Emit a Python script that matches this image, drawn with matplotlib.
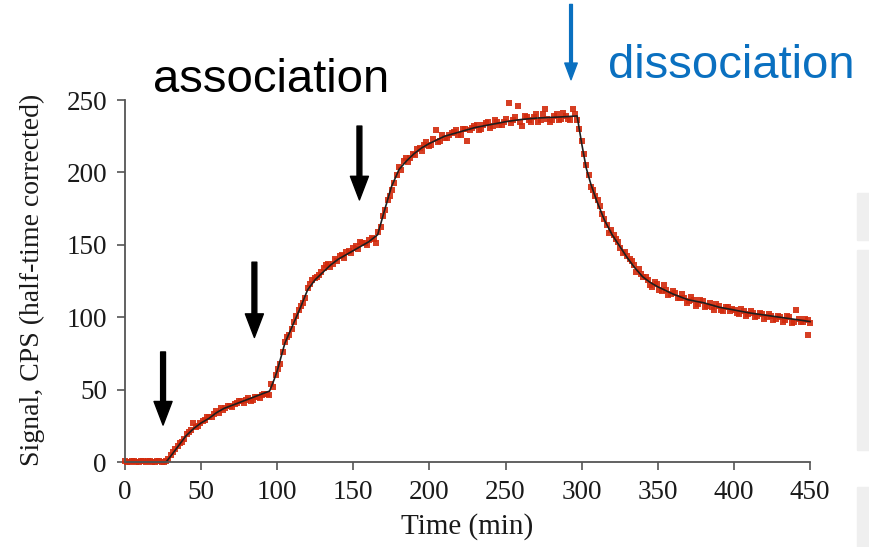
import matplotlib.pyplot as plt
from matplotlib.patches import Rectangle

# measured points (time in min, signal in CPS)
t_obs = [0, 3, 6, 9, 12, 15, 18, 21, 24, 27,
         30, 33, 36, 39, 42, 45, 48, 51, 54, 57,
         60, 63, 66, 69, 72, 75, 78, 81, 84, 87,
         90, 93, 96, 99, 102, 105, 108, 111, 114, 117,
         120, 123, 126, 129, 132, 135, 138, 141, 144, 147,
         150, 153, 156, 159, 162, 165, 168, 171, 174, 177,
         180, 183, 186, 189, 192, 195, 198, 201, 204, 207,
         210, 213, 216, 219, 222, 225, 228, 231, 234, 237,
         240, 243, 246, 249, 252, 255, 258, 261, 264, 267,
         270, 273, 276, 279, 282, 285, 288, 291, 294, 297,
         300, 303, 306, 309, 312, 315, 318, 321, 324, 327,
         330, 333, 336, 339, 342, 345, 348, 351, 354, 357,
         360, 363, 366, 369, 372, 375, 378, 381, 384, 387,
         390, 393, 396, 399, 402, 405, 408, 411, 414, 417,
         420, 423, 426, 429, 432, 435, 438, 441, 444, 447,
         450, 449]
s_obs = [0.5, 0, 1, 0, 0.5, 1, 0, 0.5, 0, 0.5,
         5, 9, 13, 16, 21, 27, 25, 28, 31, 31,
         35, 37, 37, 39, 40, 42, 41, 44, 43, 45,
         46, 47, 54, 60, 68, 83, 88, 97, 105, 110,
         120, 126, 128, 131, 136, 135, 140, 142, 141, 146,
         148, 147, 151, 150, 155, 151, 162, 174, 184, 193,
         204, 208, 207, 213, 216, 215, 221, 219, 229, 222,
         224, 226, 228, 226, 230, 222, 231, 233, 230, 234,
         231, 236, 233, 235, 248, 236, 246, 232, 238, 235,
         240, 236, 244, 235, 239, 236, 241, 237, 244, 236,
         222, 205, 190, 184, 177, 168, 158, 157, 152, 144,
         142, 139, 131, 130, 128, 122, 124, 119, 122, 115,
         118, 113, 116, 110, 114, 108, 112, 107, 110, 105,
         108, 104, 107, 106, 103, 106, 101, 104, 100, 103,
         99, 102, 98, 101, 97, 101, 96, 105, 97, 99,
         96, 88]

# second read-out, half a cycle later
t_obs2 = [1.5, 4.5, 7.5, 10.5, 13.5, 16.5, 19.5, 22.5, 25.5,
          28.5, 31.5, 34.5, 37.5, 40.5, 43.5, 46.5, 49.5, 52.5, 55.5,
          58.5, 61.5, 64.5, 67.5, 70.5, 73.5, 76.5, 79.5, 82.5, 85.5,
          88.5, 91.5, 94.5, 97.5, 100.5, 103.5, 106.5, 109.5, 112.5, 115.5,
          118.5, 121.5, 124.5, 127.5, 130.5, 133.5, 136.5, 139.5, 142.5, 145.5,
          148.5, 151.5, 154.5, 157.5, 160.5, 163.5, 166.5, 169.5, 172.5, 175.5,
          178.5, 181.5, 184.5, 187.5, 190.5, 193.5, 196.5, 199.5, 202.5, 205.5,
          208.5, 211.5, 214.5, 217.5, 220.5, 223.5, 226.5, 229.5, 232.5, 235.5,
          238.5, 241.5, 244.5, 247.5, 250.5, 253.5, 256.5, 259.5, 262.5, 265.5,
          268.5, 271.5, 274.5, 277.5, 280.5, 283.5, 286.5, 289.5, 292.5, 295.5,
          298.5, 301.5, 304.5, 307.5, 310.5, 313.5, 316.5, 319.5, 322.5, 325.5,
          328.5, 331.5, 334.5, 337.5, 340.5, 343.5, 346.5, 349.5, 352.5, 355.5,
          358.5, 361.5, 364.5, 367.5, 370.5, 373.5, 376.5, 379.5, 382.5, 385.5,
          388.5, 391.5, 394.5, 397.5, 400.5, 403.5, 406.5, 409.5, 412.5, 415.5,
          418.5, 421.5, 424.5, 427.5, 430.5, 433.5, 436.5, 439.5, 442.5, 445.5,
          448.5]
s_obs2 = [0, 0.5, 0, 1, 0, 0.5, 0, 1, 0,
          2, 7, 11, 14, 19, 22, 24, 27, 29, 31,
          33, 34, 36, 39, 38, 41, 42, 43, 42, 45,
          44, 47, 46, 52, 64, 76, 86, 92, 101, 108,
          113, 123, 127, 129, 134, 137, 137, 139, 143, 145,
          144, 149, 152, 151, 153, 154, 159, 170, 181, 188,
          198, 202, 210, 210, 212, 217, 219, 218, 223, 221,
          226, 224, 227, 229, 226, 230, 229, 232, 229, 233,
          235, 232, 235, 233, 237, 234, 238, 235, 239, 236,
          238, 235, 240, 237, 236, 240, 237, 239, 236, 240,
          230, 213, 198, 188, 181, 171, 164, 160, 154, 148,
          145, 140, 136, 133, 128, 126, 121, 123, 118, 119,
          116, 117, 113, 113, 111, 112, 109, 111, 108, 107,
          109, 105, 107, 104, 105, 102, 104, 102, 103, 101,
          102, 100, 101, 99, 100, 98, 100, 97, 99, 97,
          98]

# fitted model curve
t_fit = [0, 27, 30, 35, 40, 45, 50, 55, 60, 65, 70, 75, 80, 85, 90, 95,
         98, 100, 105, 110, 115, 120, 125, 130, 135, 140, 145, 150, 155, 160, 166,
         170, 175, 180, 185, 190, 195, 200, 210, 220, 230, 240, 250, 260, 270, 280, 290, 297,
         300, 303, 306, 310, 315, 320, 325, 330, 335, 340, 345, 350, 360, 370, 380,
         390, 400, 410, 420, 430, 440, 450]
s_fit = [0, 0, 4, 11, 18, 23, 27, 30, 34, 37, 39, 41, 43, 45, 47, 49,
         57, 63, 82, 94, 106, 119, 126, 131, 136, 140, 143, 146, 149, 152, 157,
         172, 190, 202, 208, 213, 217, 220, 225, 228, 231, 233, 235, 236.5, 237.5, 238, 238.5, 239,
         220, 203, 192, 180, 167, 157, 149, 141, 134, 128, 124, 121, 116, 112, 110,
         107, 105, 103, 101.5, 100, 98.5, 97]

# injection arrows: (time, tail, tip)
arrows_t = [25, 85, 154]
arrows_top = [76, 138, 232]
arrows_tip = [25.5, 86, 181]

red = '#d22a0c'
blue = '#0a70c0'

fig = plt.figure(figsize=(8.7, 5.47), dpi=100)
ax = fig.add_axes([125/870, 85/547, 685/870, 362/547])

# faint background remnant at the right edge
for y0, y1 in [(193, 240), (250, 450), (487, 547)]:
    fig.patches.append(Rectangle((857/870, 1 - y1/547), 13/870, (y1 - y0)/547,
                                 transform=fig.transFigure, color='#efefef', zorder=0))

ax.plot(t_obs, s_obs, 's', color=red, markersize=5, markeredgewidth=0, alpha=0.9, clip_on=False)
ax.plot(t_obs2, s_obs2, 's', color=red, markersize=5, markeredgewidth=0, alpha=0.9, clip_on=False)
ax.plot(t_fit, s_fit, '-', color='#1e1e1e', lw=1.2, clip_on=False)

for x, y0, y1 in zip(arrows_t, arrows_top, arrows_tip):
    ax.annotate('', xy=(x, y1), xytext=(x, y0),
                arrowprops=dict(facecolor='black', edgecolor='black', width=3.5,
                                headwidth=13, headlength=17, shrink=0))

ax.annotate('', xy=(293, 264), xytext=(293, 316), annotation_clip=False,
            arrowprops=dict(facecolor=blue, edgecolor=blue, width=2,
                            headwidth=9, headlength=12, shrink=0))

ax.set_xlim(0, 450)
ax.set_ylim(0, 250)
ax.set_xticks(range(0, 451, 50))
ax.set_yticks(range(0, 251, 50))
for s in ['top', 'right']:
    ax.spines[s].set_visible(False)
for s in ['left', 'bottom']:
    ax.spines[s].set_color('#555555')
    ax.spines[s].set_linewidth(1.3)
ax.tick_params(direction='out', length=6, width=1.2, color='#555555',
               labelsize=19.5, pad=7, labelcolor='#1a1a1a')
for lab in ax.get_xticklabels() + ax.get_yticklabels():
    lab.set_family('Liberation Serif')

fig.text(32/870, 1 - 280/547, 'Signal, CPS (half-time corrected)', rotation=90,
         ha='center', va='center', fontsize=20, family='Liberation Serif', color='#1a1a1a')
fig.text(467/870, 1 - 527/547, 'Time (min)', ha='center', va='center',
         fontsize=21, family='Liberation Serif', color='#1a1a1a')

fig.text(153/870, 1 - 92/547, 'association', ha='left', va='baseline',
         fontsize=34, family='Liberation Sans', color='black')
fig.text(608/870, 1 - 78/547, 'dissociation', ha='left', va='baseline',
         fontsize=34, family='Liberation Sans', color=blue)

fig.savefig('out.png', dpi=100)
